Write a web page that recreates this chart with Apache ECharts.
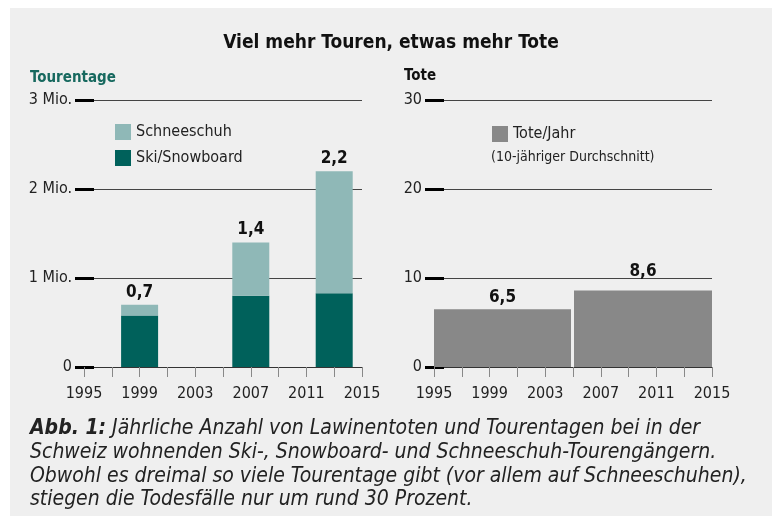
<!DOCTYPE html>
<html><head><meta charset="utf-8">
<script src="https://cdn.jsdelivr.net/npm/echarts@6/dist/echarts.min.js"></script>
<style>html,body{margin:0;padding:0;background:#fff}#c{position:absolute;left:10px;top:8px;width:762px;height:508px;background:#efefef}</style>
</head><body><div id="c"></div>
<script>
// ---- data ----
const tourYears = [1999, 2007, 2013];
const skiSnowboard = [0.58, 0.80, 0.83];   // Mio. Tourentage
const schneeschuh = [0.12, 0.60, 1.37];    // Mio. Tourentage
const deathPeriods = [[1995, 2005], [2005, 2015]];
const deathsPerYear = [6.5, 8.6];

const FONT = "'DejaVu Sans Condensed','Roboto',sans-serif";
const fmt = v => v.toFixed(1).replace('.', ',');

const chart = echarts.init(document.getElementById('c'));
const G0L = 74, G1L = 424, GT = 92, GW = 278, GH = 267, BAR_HALF = 18.5;

function xAxisCfg(gi) {
  return {
    type: 'value', gridIndex: gi, min: 1995, max: 2015, interval: 4,
    axisLine: {show: true, lineStyle: {color: '#333', width: 1}},
    axisTick: {show: true, length: 10, lineStyle: {color: '#888', width: 1}},
    minorTick: {show: true, splitNumber: 2, length: 10, lineStyle: {color: '#888', width: 1}},
    splitLine: {show: false},
    axisLabel: {fontFamily: FONT, fontSize: 16, color: '#222', margin: 19, formatter: v => String(v)}
  };
}
function yAxisCfg(gi, max, interval, fmtLabel, inside) {
  return {
    type: 'value', gridIndex: gi, min: 0, max: max, interval: interval, position: 'left',
    axisLine: {show: false},
    axisTick: {show: true, inside: inside, length: inside ? 10 : 9, lineStyle: {color: '#000', width: 3}},
    splitLine: {show: !inside, lineStyle: {color: '#444', width: 1}},
    axisLabel: {show: !inside, fontFamily: FONT, fontSize: 16, color: '#222', margin: 12, formatter: fmtLabel}
  };
}
const leftFmt = v => v === 0 ? '0' : v + ' Mio.';
const rightFmt = v => String(v);

function stackedBar(withLabel) {
  return function (params, api) {
    const x = api.value(0), base = api.value(1), val = api.value(2);
    const top = api.coord([x, base + val]);
    const bot = api.coord([x, base]);
    const el = {
      type: 'rect',
      shape: {x: top[0] - BAR_HALF, y: top[1], width: BAR_HALF * 2, height: bot[1] - top[1]},
      style: {fill: api.visual('color')}
    };
    if (withLabel) {
      el.textContent = {style: {text: fmt(base + val), fontFamily: FONT, fontSize: 17, fontWeight: 'bold', fill: '#111'}};
      el.textConfig = {position: 'top', distance: 4};
    }
    return el;
  };
}

chart.setOption({
  animation: false,
  backgroundColor: '#efefef',
  textStyle: {fontFamily: FONT},
  title: [
    {text: 'Viel mehr Touren, etwas mehr Tote', left: 'center', top: 26, padding: 0,
     textStyle: {fontFamily: FONT, fontSize: 19, fontWeight: 'bold', color: '#111'}},
    {text: 'Tourentage', left: 20, top: 63, padding: 0,
     textStyle: {fontFamily: FONT, fontSize: 15, fontWeight: 'bold', color: '#17695f'}},
    {text: 'Tote', left: 394, top: 61, padding: 0,
     textStyle: {fontFamily: FONT, fontSize: 15, fontWeight: 'bold', color: '#111'}},
    {text: '(10-jähriger Durchschnitt)', left: 481, top: 142, padding: 0,
     textStyle: {fontFamily: FONT, fontSize: 14, fontWeight: 'normal', color: '#222'}},
    {text: '{b|Abb. 1:} Jährliche Anzahl von Lawinentoten und Tourentagen bei in der\nSchweiz wohnenden Ski-, Snowboard- und Schneeschuh-Tourengängern.\nObwohl es dreimal so viele Tourentage gibt (vor allem auf Schneeschuhen),\nstiegen die Todesfälle nur um rund 30 Prozent.',
     left: 20, top: 409, padding: 0,
     textStyle: {fontFamily: FONT, fontSize: 21, fontStyle: 'italic', fontWeight: 'normal', color: '#222', lineHeight: 23.7,
       rich: {b: {fontFamily: FONT, fontSize: 21, fontStyle: 'italic', fontWeight: 'bold', color: '#222', lineHeight: 23.7}}}}
  ],
  legend: [
    {data: ['Schneeschuh', 'Ski/Snowboard'], orient: 'vertical', left: 105, top: 116, padding: 0,
     itemWidth: 16, itemHeight: 16, itemGap: 10, icon: 'rect', selectedMode: false,
     textStyle: {fontFamily: FONT, fontSize: 16, color: '#222'}},
    {data: ['Tote/Jahr'], left: 482, top: 118, padding: 0,
     itemWidth: 16, itemHeight: 16, icon: 'rect', selectedMode: false,
     textStyle: {fontFamily: FONT, fontSize: 16, color: '#222'}}
  ],
  grid: [
    {left: G0L, top: GT, width: GW, height: GH},
    {left: G1L, top: GT, width: GW, height: GH}
  ],
  xAxis: [xAxisCfg(0), xAxisCfg(1)],
  yAxis: [
    yAxisCfg(0, 3, 1, leftFmt, false), yAxisCfg(0, 3, 1, leftFmt, true),
    yAxisCfg(1, 30, 10, rightFmt, false), yAxisCfg(1, 30, 10, rightFmt, true)
  ],
  series: [
    {name: 'Ski/Snowboard', type: 'custom', xAxisIndex: 0, yAxisIndex: 0,
     itemStyle: {color: '#00615b'},
     data: tourYears.map((y, i) => [y, 0, skiSnowboard[i]]),
     encode: {x: 0, y: 2}, renderItem: stackedBar(false)},
    {name: 'Schneeschuh', type: 'custom', xAxisIndex: 0, yAxisIndex: 0,
     itemStyle: {color: '#8fb8b7'},
     data: tourYears.map((y, i) => [y, skiSnowboard[i], schneeschuh[i]]),
     encode: {x: 0, y: 2}, renderItem: stackedBar(true)},
    {name: 'Tote/Jahr', type: 'custom', xAxisIndex: 1, yAxisIndex: 2,
     itemStyle: {color: '#888888'},
     data: deathPeriods.map((p, i) => [p[0], p[1], deathsPerYear[i]]),
     encode: {x: [0, 1], y: 2},
     renderItem: function (params, api) {
       const a = api.coord([api.value(0), api.value(2)]);
       const b = api.coord([api.value(1), 0]);
       const first = params.dataIndex === 0;
       const x0 = a[0] + (first ? 0 : 1), x1 = b[0] - (first ? 2 : 0);
       return {
         type: 'rect',
         shape: {x: x0, y: a[1], width: x1 - x0, height: b[1] - a[1]},
         style: {fill: api.visual('color')},
         textContent: {style: {text: fmt(api.value(2)), fontFamily: FONT, fontSize: 17, fontWeight: 'bold', fill: '#111'}},
         textConfig: {position: 'top', distance: first ? 3 : 10}
       };
     }}
  ]
});
</script></body></html>
